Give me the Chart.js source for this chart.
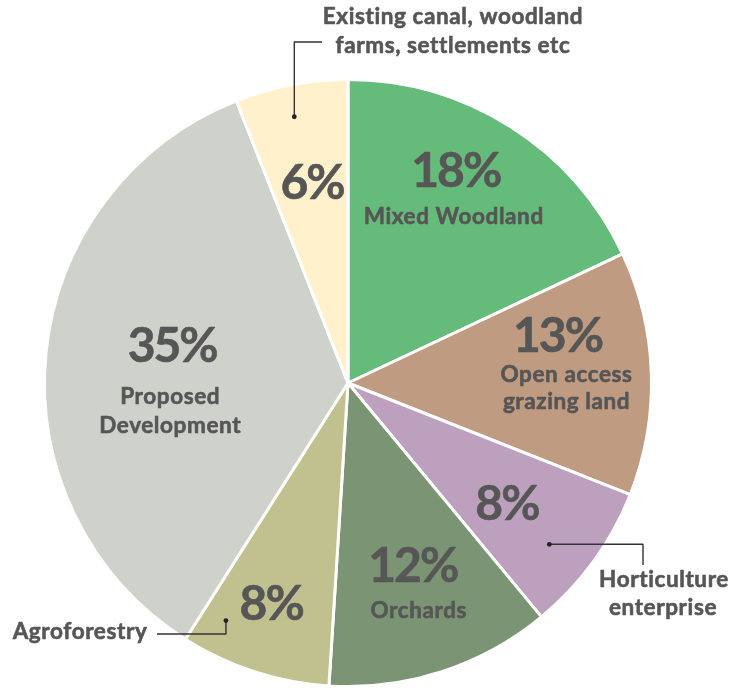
<!DOCTYPE html>
<html><head><meta charset="utf-8">
<script src="https://cdn.jsdelivr.net/npm/chart.js@4"></script>
<style>html,body{margin:0;padding:0;background:#fff;}canvas{display:block;}</style>
</head><body>
<canvas id="c" width="750" height="691"></canvas>
<script>
const categories = ["Mixed Woodland","Open access grazing land","Horticulture enterprise","Orchards","Agroforestry","Proposed Development","Existing canal, woodland farms, settlements etc"];
const values = [18,13,8,12,8,35,6];
const colors = ["#65bb7a","#bf9b81","#bca0be","#7a9474","#c1c18f","#cfd2cb","#fff1cc"];
const insideLines = [["Mixed Woodland"],["Open access","grazing land"],[],["Orchards"],[],["Proposed","Development"],[]];
const calloutLines = {6:["Existing canal, woodland","farms, settlements etc"],2:["Horticulture","enterprise"],4:["Agroforestry"]};

// layout (not data): percent anchor in polar coords (deg clockwise from top, fraction of radius)
const pctAngle = [27.3,77.7,127.5,160.4,198.8,281.6,350];
const pctRad   = [0.781,0.710,0.664,0.646,0.775,0.588,0.664];
const lineDx   = [-3,8,0,5,0,-3,0];
const lineDy   = [[45],[39,66],[],[44],[],[51,80],[]];
const TEXT = "#565656";

function polar(arc, angDeg, rf){
  const a = angDeg*Math.PI/180 - Math.PI/2;
  return {x: arc.x + Math.cos(a)*arc.outerRadius*rf, y: arc.y + Math.sin(a)*arc.outerRadius*rf};
}
function heavyText(ctx, s, x, y){
  ctx.fillText(s, x, y);
  ctx.strokeText(s, x, y);
}
const labelPlugin = {
  id:'labels',
  afterDatasetsDraw(chart){
    const ctx = chart.ctx;
    const meta = chart.getDatasetMeta(0);
    ctx.save();
    ctx.fillStyle = TEXT;
    ctx.strokeStyle = TEXT;
    ctx.lineWidth = 0.6;
    ctx.lineJoin = 'round';
    ctx.textAlign = 'center';
    ctx.textBaseline = 'middle';
    meta.data.forEach((arc,i)=>{
      const p = polar(arc, pctAngle[i], pctRad[i]);
      ctx.font = 'bold 48px Lato';
      ctx.letterSpacing = '-2px';
      heavyText(ctx, values[i]+'%', p.x - 1, p.y - 1);
      ctx.letterSpacing = '0.6px';
      ctx.font = 'bold 22.5px Lato';
      insideLines[i].forEach((l,k)=>{ heavyText(ctx, l, p.x + lineDx[i], p.y + lineDy[i][k] - 1); });
    });
    ctx.save();
    ctx.strokeStyle = '#333'; ctx.lineWidth = 1.4;
    function dot(p){ ctx.beginPath(); ctx.arc(p.x,p.y,2.4,0,Math.PI*2); ctx.fillStyle='#222'; ctx.fill(); }
    let arc = meta.data[6];
    let p = polar(arc, 348.6, 0.895);
    ctx.beginPath(); ctx.moveTo(p.x,p.y); ctx.lineTo(p.x,42); ctx.lineTo(322,42); ctx.stroke(); dot(p);
    arc = meta.data[2];
    p = polar(arc, 128.7, 0.85);
    ctx.beginPath(); ctx.moveTo(p.x,p.y); ctx.lineTo(643,p.y); ctx.lineTo(643,565); ctx.stroke(); dot(p);
    arc = meta.data[4];
    p = polar(arc, 207.2, 0.88);
    ctx.beginPath(); ctx.moveTo(p.x,p.y); ctx.lineTo(p.x,634); ctx.lineTo(157,634); ctx.stroke(); dot(p);
    ctx.restore();
    ctx.fillStyle = TEXT;
    ctx.font = 'bold 22.5px Lato';
    ctx.letterSpacing = '0.6px';
    heavyText(ctx, calloutLines[6][0], 453, 17);
    heavyText(ctx, calloutLines[6][1], 453, 46);
    heavyText(ctx, calloutLines[2][0], 664, 580);
    heavyText(ctx, calloutLines[2][1], 663, 608);
    heavyText(ctx, calloutLines[4][0], 80, 632);
    ctx.restore();
  }
};
new Chart(document.getElementById('c'), {
  type:'pie',
  data:{labels:categories, datasets:[{data:values, backgroundColor:colors, borderColor:'#ffffff', borderWidth:3}]},
  options:{
    responsive:false, animation:false,
    layout:{padding:{left:43,right:97,top:78,bottom:3}},
    plugins:{legend:{display:false},tooltip:{enabled:false}}
  },
  plugins:[labelPlugin]
});
</script>
</body></html>
